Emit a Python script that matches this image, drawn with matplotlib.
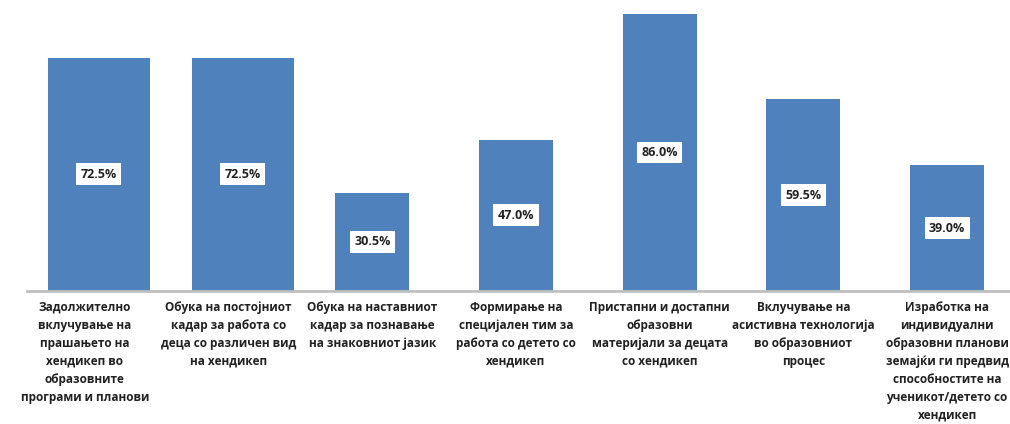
import matplotlib.pyplot as plt

plt.rcParams['font.family'] = ['Open Sans', 'DejaVu Sans']

categories = [
    'Задолжително\nвклучување на\nпрашањето на\nхендикеп во\nобразовните\nпрограми и планови',
    'Обука на постојниот\nкадар за работа со\nдеца со различен вид\nна хендикеп',
    'Обука на наставниот\nкадар за познавање\nна знаковниот јазик',
    'Формирање на\nспецијален тим за\nработа со детето со\nхендикеп',
    'Пристапни и достапни\nобразовни\nматеријали за децата\nсо хендикеп',
    'Вклучување на\nасистивна технологија\nво образовниот\nпроцес',
    'Изработка на\nиндивидуални\nобразовни планови\nземајќи ги предвид\nспособностите на\nученикот/детето со\nхендикеп',
]
values = [72.5, 72.5, 30.5, 47.0, 86.0, 59.5, 39.0]

fig = plt.figure(figsize=(10.1, 4.24), dpi=100)
ax = fig.add_axes([27 / 1010, 133 / 424, 983 / 1010, 291 / 424])

widths = [0.71, 0.71, 0.515, 0.515, 0.515, 0.515, 0.515]
lefts = [i - 0.355 for i in range(len(values))]
centers = [l + w / 2 for l, w in zip(lefts, widths)]
ax.bar(lefts, values, width=widths, align='edge', color='#4f81bd', zorder=2)

for xc, v in zip(centers, values):
    ax.text(xc, v / 2, f'{v:.1f}%', ha='center', va='center', fontsize=9,
            fontweight='bold', color='#222222',
            bbox=dict(boxstyle='square,pad=0.35', fc='white', ec='none'))

# category labels sit at a regular step, not at the wide bars' centres
label_pos = [l + 0.515 / 2 for l in lefts]
ax.set_xlim(-0.5, 6.34)
ax.set_ylim(0, 90.4)
ax.set_xticks(label_pos)
ax.set_xticklabels(categories, fontsize=8.5, fontweight='bold', color='#222222',
                   linespacing=1.5, va='top')
ax.tick_params(axis='x', length=0, pad=7)
ax.set_yticks([])
for s in ['top', 'right', 'left']:
    ax.spines[s].set_visible(False)
ax.spines['bottom'].set_color('#bfbfbf')
ax.spines['bottom'].set_linewidth(2)

fig.savefig('out.png', dpi=100)
